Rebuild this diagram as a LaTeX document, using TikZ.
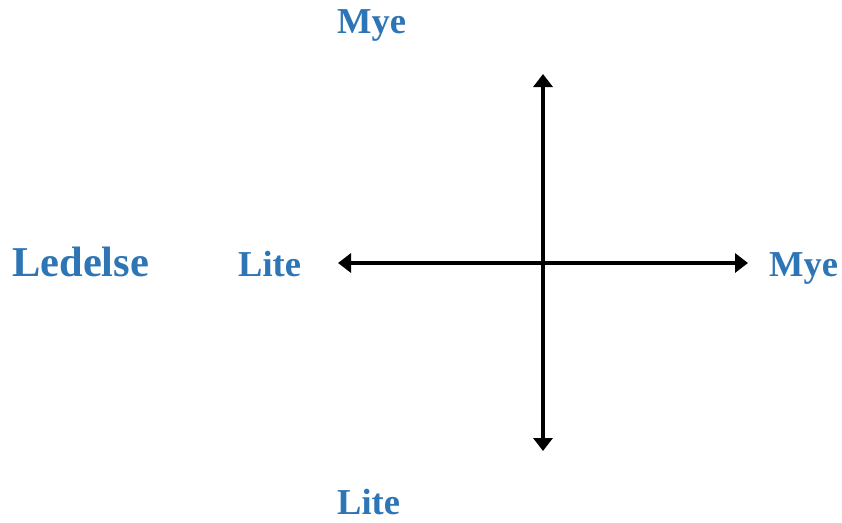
\documentclass[tikz,border=0pt]{standalone}
\usepackage{fontspec}
\setmainfont{Liberation Serif}
\usetikzlibrary{arrows.meta}
\definecolor{lblblue}{HTML}{2E75B6}
\begin{document}
\begin{tikzpicture}[x=1pt,y=-1pt,
  lbl/.style={anchor=base west,inner sep=0pt,text=lblblue,font=\fontsize{36.5}{40}\selectfont\bfseries},
  biglbl/.style={lbl,font=\fontsize{42.5}{46}\selectfont\bfseries},
  axis/.style={line width=4.5pt,{Triangle[width=19pt,length=13pt]}-{Triangle[width=19pt,length=13pt]}}]
\useasboundingbox (0,0) rectangle (842,522);
\coordinate (L) at (338,263);
\coordinate (R) at (748,263);
\coordinate (T) at (543,74);
\coordinate (B) at (543,451);
\draw[axis] (L) -- (R);
\draw[axis] (B) -- (T);
\node[lbl] (mt) at (337,33) {Mye};
\node[lbl] (lb) at (337,514) {Lite};
\node[lbl] (ll) at (238,276) {Lite};
\node[lbl] (mr) at (769,276) {Mye};
\node[biglbl] (led) at (12,276) {Ledelse};
\end{tikzpicture}
\end{document}
